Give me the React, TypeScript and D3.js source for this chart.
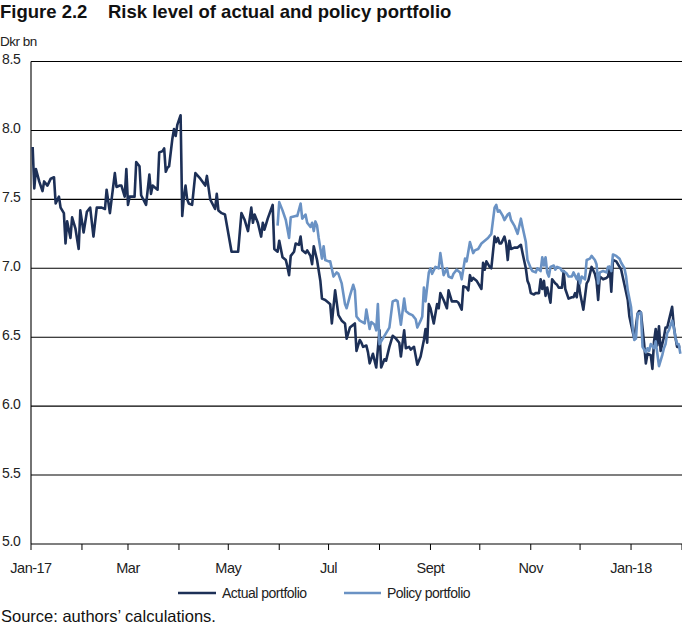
import React from "react";
import * as d3 from "d3";

const actualPortfolio: [string, number][] = [
["2017-01-02",7.88],["2017-01-03",7.58],["2017-01-04",7.72],["2017-01-06",7.63],["2017-01-08",7.56],["2017-01-09",7.63],["2017-01-11",7.60],["2017-01-13",7.65],["2017-01-15",7.66],["2017-01-16",7.47],["2017-01-18",7.52],["2017-01-19",7.44],["2017-01-21",7.40],["2017-01-22",7.18],["2017-01-23",7.34],["2017-01-25",7.22],["2017-01-26",7.37],["2017-01-28",7.29],["2017-01-30",7.14],["2017-01-31",7.42],
["2017-02-02",7.26],["2017-02-04",7.41],["2017-02-06",7.44],["2017-02-08",7.23],["2017-02-10",7.44],["2017-02-13",7.44],["2017-02-15",7.43],["2017-02-16",7.57],["2017-02-18",7.40],["2017-02-21",7.69],["2017-02-22",7.59],["2017-02-24",7.60],["2017-02-25",7.60],["2017-02-27",7.52],["2017-02-28",7.72],
["2017-03-01",7.46],["2017-03-02",7.52],["2017-03-05",7.52],["2017-03-06",7.77],["2017-03-08",7.74],["2017-03-09",7.53],["2017-03-12",7.46],["2017-03-14",7.68],["2017-03-15",7.54],["2017-03-16",7.60],["2017-03-17",7.59],["2017-03-19",7.57],["2017-03-20",7.84],["2017-03-22",7.85],["2017-03-23",7.87],["2017-03-24",7.70],["2017-03-25",7.73],["2017-03-26",7.74],["2017-03-28",7.94],["2017-03-29",8.01],["2017-03-30",7.96],["2017-03-31",8.04],
["2017-04-02",8.11],["2017-04-03",7.38],["2017-04-04",7.52],["2017-04-05",7.60],["2017-04-06",7.50],["2017-04-07",7.47],["2017-04-09",7.46],["2017-04-11",7.69],["2017-04-14",7.65],["2017-04-17",7.60],["2017-04-18",7.67],["2017-04-20",7.50],["2017-04-23",7.43],["2017-04-24",7.54],["2017-04-25",7.42],["2017-04-27",7.40],["2017-04-29",7.39],
["2017-05-03",7.12],["2017-05-07",7.12],["2017-05-09",7.40],["2017-05-11",7.35],["2017-05-13",7.27],["2017-05-15",7.44],["2017-05-16",7.33],["2017-05-17",7.39],["2017-05-19",7.33],["2017-05-21",7.23],["2017-05-22",7.33],["2017-05-23",7.28],["2017-05-25",7.36],["2017-05-28",7.46],["2017-05-29",7.14],["2017-05-31",7.12],
["2017-06-01",7.20],["2017-06-03",7.08],["2017-06-05",7.06],["2017-06-06",7.01],["2017-06-07",6.95],["2017-06-08",7.09],["2017-06-10",7.12],["2017-06-11",7.18],["2017-06-13",7.17],["2017-06-14",7.23],["2017-06-15",7.13],["2017-06-17",7.11],["2017-06-18",7.13],["2017-06-20",7.09],["2017-06-21",7.03],["2017-06-22",7.16],["2017-06-24",7.06],["2017-06-26",6.91],["2017-06-27",6.78],["2017-06-29",6.77],
["2017-07-01",6.75],["2017-07-02",6.74],["2017-07-03",6.60],["2017-07-05",6.84],["2017-07-07",6.66],["2017-07-09",6.62],["2017-07-11",6.60],["2017-07-12",6.49],["2017-07-14",6.57],["2017-07-17",6.60],["2017-07-18",6.40],["2017-07-20",6.48],["2017-07-21",6.46],["2017-07-22",6.43],["2017-07-24",6.44],["2017-07-25",6.39],["2017-07-26",6.31],["2017-07-28",6.38],["2017-07-29",6.33],["2017-07-30",6.28],
["2017-08-01",6.55],["2017-08-02",6.28],["2017-08-04",6.34],["2017-08-05",6.33],["2017-08-07",6.43],["2017-08-09",6.51],["2017-08-11",6.49],["2017-08-13",6.46],["2017-08-14",6.36],["2017-08-16",6.55],["2017-08-17",6.42],["2017-08-19",6.43],["2017-08-20",6.41],["2017-08-22",6.43],["2017-08-24",6.30],["2017-08-26",6.36],["2017-08-27",6.42],["2017-08-28",6.48],["2017-08-29",6.56],["2017-08-30",6.46],["2017-08-31",6.74],
["2017-09-01",6.71],["2017-09-03",6.60],["2017-09-05",6.74],["2017-09-06",6.71],["2017-09-07",6.82],["2017-09-09",6.77],["2017-09-11",6.71],["2017-09-12",6.84],["2017-09-14",6.76],["2017-09-15",6.76],["2017-09-17",6.76],["2017-09-18",6.75],["2017-09-20",6.70],["2017-09-21",6.87],["2017-09-23",6.86],["2017-09-24",6.84],["2017-09-25",6.95],["2017-09-26",6.91],["2017-09-27",6.93],["2017-09-29",6.91],["2017-09-30",6.89],
["2017-10-02",6.85],["2017-10-03",7.04],["2017-10-04",6.99],["2017-10-05",7.05],["2017-10-07",7.01],["2017-10-08",7.00],["2017-10-10",7.23],["2017-10-11",7.19],["2017-10-12",7.22],["2017-10-13",7.18],["2017-10-14",7.18],["2017-10-16",7.23],["2017-10-17",7.18],["2017-10-18",7.06],["2017-10-19",7.20],["2017-10-20",7.14],["2017-10-22",7.15],["2017-10-24",7.15],["2017-10-26",7.17],["2017-10-27",7.11],["2017-10-29",7.00],["2017-10-30",6.91],["2017-10-31",6.88],
["2017-11-01",6.82],["2017-11-03",6.81],["2017-11-04",6.82],["2017-11-06",6.82],["2017-11-07",6.92],["2017-11-08",6.85],["2017-11-09",6.91],["2017-11-10",6.80],["2017-11-11",6.86],["2017-11-13",6.75],["2017-11-14",6.92],["2017-11-16",6.89],["2017-11-17",6.88],["2017-11-18",6.86],["2017-11-20",6.86],["2017-11-21",6.98],["2017-11-22",6.85],["2017-11-24",6.78],["2017-11-26",6.79],["2017-11-27",6.79],["2017-11-28",6.82],["2017-11-29",6.79],["2017-11-30",6.91],
["2017-12-01",6.82],["2017-12-03",6.70],["2017-12-05",6.89],["2017-12-06",6.91],["2017-12-08",7.01],["2017-12-10",6.96],["2017-12-11",6.91],["2017-12-12",6.77],["2017-12-13",6.94],["2017-12-15",6.92],["2017-12-17",6.93],["2017-12-18",6.94],["2017-12-19",7.01],["2017-12-20",6.83],["2017-12-21",7.06],["2017-12-23",7.05],["2017-12-25",7.01],["2017-12-26",6.99],["2017-12-28",6.88],["2017-12-30",6.77],["2017-12-31",6.65],
["2018-01-02",6.54],["2018-01-03",6.49],["2018-01-05",6.67],["2018-01-06",6.69],["2018-01-07",6.68],["2018-01-09",6.45],["2018-01-10",6.31],["2018-01-11",6.38],["2018-01-13",6.37],["2018-01-14",6.27],["2018-01-15",6.47],["2018-01-16",6.56],["2018-01-17",6.44],["2018-01-18",6.58],["2018-01-19",6.40],["2018-01-21",6.50],["2018-01-22",6.57],["2018-01-23",6.57],["2018-01-24",6.62],["2018-01-26",6.72],["2018-01-27",6.58],["2018-01-28",6.50],["2018-01-29",6.43],["2018-01-31",6.43]
];

const policyPortfolio: [string, number][] = [
["2017-05-31",7.31],["2017-06-01",7.48],["2017-06-03",7.42],["2017-06-05",7.35],["2017-06-07",7.22],["2017-06-08",7.37],["2017-06-11",7.38],["2017-06-12",7.38],["2017-06-14",7.47],["2017-06-15",7.36],["2017-06-17",7.39],["2017-06-18",7.33],["2017-06-20",7.30],["2017-06-21",7.33],["2017-06-22",7.27],["2017-06-23",7.34],["2017-06-24",7.31],["2017-06-25",7.22],["2017-06-27",7.07],["2017-06-28",7.16],["2017-06-29",7.06],
["2017-07-01",7.05],["2017-07-02",7.05],["2017-07-04",6.94],["2017-07-06",6.97],["2017-07-07",6.96],["2017-07-09",6.89],["2017-07-11",6.74],["2017-07-12",6.71],["2017-07-14",6.80],["2017-07-16",6.88],["2017-07-17",6.84],["2017-07-18",6.65],["2017-07-20",6.62],["2017-07-23",6.60],["2017-07-24",6.70],["2017-07-26",6.56],["2017-07-27",6.61],["2017-07-29",6.59],["2017-07-30",6.55],["2017-07-31",6.74],
["2017-08-01",6.45],["2017-08-03",6.49],["2017-08-05",6.53],["2017-08-07",6.57],["2017-08-09",6.76],["2017-08-11",6.77],["2017-08-12",6.76],["2017-08-14",6.59],["2017-08-16",6.78],["2017-08-17",6.69],["2017-08-19",6.67],["2017-08-21",6.66],["2017-08-23",6.63],["2017-08-24",6.57],["2017-08-26",6.62],["2017-08-27",6.65],["2017-08-28",6.86],["2017-08-29",6.76],["2017-08-31",6.97],
["2017-09-01",7.00],["2017-09-02",6.96],["2017-09-04",7.01],["2017-09-06",7.00],["2017-09-07",7.11],["2017-09-09",6.95],["2017-09-11",7.00],["2017-09-12",6.94],["2017-09-14",6.93],["2017-09-15",6.96],["2017-09-17",6.99],["2017-09-19",6.97],["2017-09-20",6.92],["2017-09-22",7.07],["2017-09-23",7.05],["2017-09-25",7.19],["2017-09-27",7.11],["2017-09-28",7.13],["2017-09-30",7.14],
["2017-10-02",7.18],["2017-10-04",7.20],["2017-10-06",7.22],["2017-10-08",7.25],["2017-10-10",7.44],["2017-10-11",7.46],["2017-10-12",7.41],["2017-10-13",7.42],["2017-10-15",7.38],["2017-10-16",7.35],["2017-10-18",7.39],["2017-10-19",7.40],["2017-10-20",7.35],["2017-10-22",7.31],["2017-10-24",7.25],["2017-10-26",7.36],["2017-10-27",7.30],["2017-10-29",7.19],["2017-10-30",7.06],
["2017-11-01",7.00],["2017-11-02",6.98],["2017-11-04",6.97],["2017-11-05",7.00],["2017-11-07",6.98],["2017-11-08",7.08],["2017-11-09",7.02],["2017-11-10",7.08],["2017-11-11",6.97],["2017-11-12",6.94],["2017-11-13",7.01],["2017-11-15",7.02],["2017-11-16",6.99],["2017-11-17",7.01],["2017-11-19",7.00],["2017-11-20",6.98],["2017-11-21",6.98],["2017-11-23",6.96],["2017-11-24",6.94],["2017-11-26",6.94],["2017-11-27",6.97],["2017-11-29",6.92],["2017-11-30",6.96],
["2017-12-01",6.89],["2017-12-02",6.94],["2017-12-04",6.92],["2017-12-05",7.06],["2017-12-07",7.07],["2017-12-08",7.09],["2017-12-10",7.06],["2017-12-11",7.03],["2017-12-12",6.89],["2017-12-13",6.97],["2017-12-15",6.98],["2017-12-17",6.97],["2017-12-18",7.01],["2017-12-19",7.01],["2017-12-20",6.98],["2017-12-21",7.10],["2017-12-23",7.09],["2017-12-25",7.07],["2017-12-26",7.04],["2017-12-28",7.00],["2017-12-29",6.94],["2017-12-30",6.84],
["2018-01-01",6.72],["2018-01-02",6.57],["2018-01-03",6.48],["2018-01-04",6.49],["2018-01-05",6.67],["2018-01-07",6.68],["2018-01-08",6.43],["2018-01-10",6.39],["2018-01-11",6.42],["2018-01-12",6.40],["2018-01-13",6.45],["2018-01-15",6.42],["2018-01-16",6.47],["2018-01-17",6.38],["2018-01-18",6.29],["2018-01-20",6.37],["2018-01-21",6.42],["2018-01-22",6.45],["2018-01-23",6.53],["2018-01-24",6.55],["2018-01-26",6.62],["2018-01-27",6.57],["2018-01-28",6.50],["2018-01-29",6.45],["2018-01-30",6.45],["2018-01-31",6.38]
];

const yTicks = [5.0, 5.5, 6.0, 6.5, 7.0, 7.5, 8.0, 8.5];
const xTickLabels = ["Jan-17", "", "Mar", "", "May", "", "Jul", "", "Sept", "", "Nov", "", "Jan-18", ""];
const seriesNames = ["Actual portfolio", "Policy portfolio"];
const seriesColors = ["#1d3057", "#6a92c4"];

const W = 682, H = 626;
const FONT = "'Liberation Sans', Arial, Helvetica, sans-serif";

export default function App() {
  const parse = d3.utcParse("%Y-%m-%d");
  const x = d3.scaleUtc()
    .domain([new Date(Date.UTC(2017, 0, 1)), new Date(Date.UTC(2018, 1, 1))])
    .range([31, 682]);
  const y = d3.scaleLinear().domain([5, 8.5]).range([544, 61.5]);
  const months = d3.utcMonth.range(new Date(Date.UTC(2017, 0, 1)), new Date(Date.UTC(2018, 1, 2)));
  const line = d3.line<[string, number]>()
    .x(d => x(parse(d[0]) as Date))
    .y(d => y(d[1]))
    .curve(d3.curveLinear);

  return (
    <svg width={W} height={H} style={{ position: "absolute", left: 0, top: 0, display: "block", background: "#fff" }}
      fontFamily={FONT}>
      <text x={0} y={18} fontSize={18.5} fontWeight="bold" fill="#111">Figure 2.2</text>
      <text x={108} y={18} fontSize={18.5} fontWeight="bold" fill="#111">Risk level of actual and policy portfolio</text>
      <text x={0} y={46} fontSize={13.5} fill="#222" letterSpacing={-0.5}>Dkr bn</text>

      {yTicks.map(t => (
        <g key={t}>
          <line x1={31} x2={682} y1={y(t)} y2={y(t)} stroke="#000" strokeWidth={1.1} />
          <text x={2} y={y(t) - 2} dy="0.32em" fontSize={14} fill="#222" letterSpacing={-0.3}>{t.toFixed(1)}</text>
        </g>
      ))}
      <line x1={31} x2={31} y1={y(8.5)} y2={y(5)} stroke="#000" strokeWidth={1.1} />
      {months.map((m, i) => (
        <g key={i}>
          <line x1={x(m)} x2={x(m)} y1={y(5)} y2={y(5) + 6} stroke="#000" strokeWidth={1} />
          {xTickLabels[i] && (
            <text x={x(m)} y={y(5) + 29} textAnchor="middle" fontSize={14.5} fill="#222" letterSpacing={-0.5}>{xTickLabels[i]}</text>
          )}
        </g>
      ))}

      <path d={line(actualPortfolio) || ""} fill="none" stroke={seriesColors[0]} strokeWidth={2.6} strokeLinejoin="round" />
      <path d={line(policyPortfolio) || ""} fill="none" stroke={seriesColors[1]} strokeWidth={2.6} strokeLinejoin="round" />

      <g>
        <line x1={178} x2={216} y1={593} y2={593} stroke={seriesColors[0]} strokeWidth={2.5} />
        <text x={222} y={593} dy="0.35em" fontSize={14} fill="#222" letterSpacing={-0.5}>{seriesNames[0]}</text>
        <line x1={344} x2={381} y1={593} y2={593} stroke={seriesColors[1]} strokeWidth={2.5} />
        <text x={387} y={593} dy="0.35em" fontSize={14} fill="#222" letterSpacing={-0.5}>{seriesNames[1]}</text>
      </g>

      <text x={1} y={622} fontSize={16.5} fill="#111">Source: authors’ calculations.</text>
    </svg>
  );
}
